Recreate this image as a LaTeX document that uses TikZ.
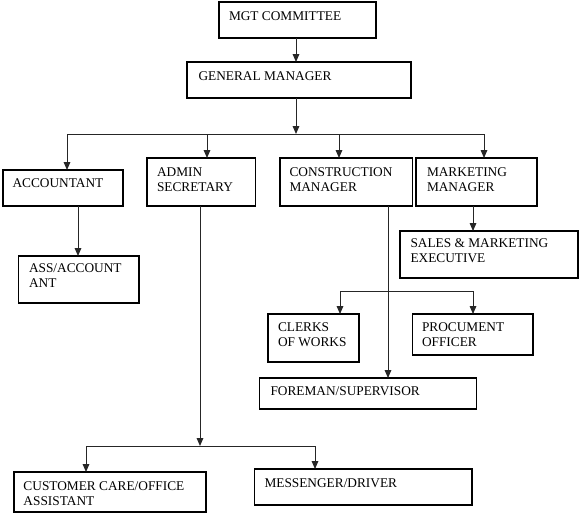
\documentclass[tikz,border=0pt]{standalone}
\usepackage{fontspec}
\setmainfont{Liberation Serif}
\usetikzlibrary{arrows.meta,calc}
\tikzset{
  box/.style={draw=black, line width=0.9pt, rectangle, inner sep=0pt, outer sep=0pt, anchor=north west},
  lbl/.style={inner sep=0pt, outer sep=0pt, anchor=base west, font=\fontsize{10pt}{11.25pt}\selectfont, text=black},
  conn/.style={draw=black!85, line width=0.75pt},
  arr/.style={conn, -{Triangle[length=6pt,width=5pt]}}
}
\newcommand\bx[5]{\node[box, minimum width={(#4-#2)*0.75pt}, minimum height={(#5-#3)*0.75pt}] (#1) at (#2,#3) {};}
\newcommand\twol[2]{\vtop{\hbox{#1}\hbox{#2}}}
\begin{document}
\begin{tikzpicture}[x=0.75pt,y=-0.75pt]
\useasboundingbox (0,0) rectangle (581,514);
% boxes
\bx{mgt}{219}{2}{376}{38}
\bx{gm}{187}{62}{411}{98}
\bx{acc}{3}{170}{123}{206}
\bx{adm}{147}{158}{255.5}{206}
\bx{con}{280}{158}{412.5}{206}
\bx{mkt}{416}{158}{537}{206}
\bx{ass}{18.5}{256}{139}{303}
\bx{sal}{400}{231}{578}{278}
\bx{clk}{268}{314}{359}{362}
\bx{pro}{412.5}{314}{533}{355}
\bx{frm}{259.5}{378}{476.5}{409}
\bx{cus}{14}{472}{206}{512}
\bx{mes}{254.5}{469}{472}{505}
% labels
\node[lbl] (tmgt) at (229,20) {MGT COMMITTEE};
\node[lbl] (tgm) at (198.5,80) {GENERAL MANAGER};
\node[lbl] (tacc) at (12.5,187.5) {ACCOUNTANT};
\node[lbl] (tadm) at (157,176.5) {\twol{ADMIN}{SECRETARY}};
\node[lbl] (tcon) at (289.5,176) {\twol{CONSTRUCTION}{MANAGER}};
\node[lbl] (tmkt) at (427,176.7) {\twol{MARKETING}{MANAGER}};
\node[lbl] (tass) at (29,272.7) {\twol{ASS/ACCOUNT}{ANT}};
\node[lbl] (tsal) at (410.5,247.7) {\twol{SALES \& MARKETING}{EXECUTIVE}};
\node[lbl] (tclk) at (278,331) {\twol{CLERKS}{OF WORKS}};
\node[lbl] (tpro) at (422,331) {\twol{PROCUMENT}{OFFICER}};
\node[lbl] (tfrm) at (270.5,395) {FOREMAN/SUPERVISOR};
\node[lbl] (tcus) at (23.5,490) {\twol{CUSTOMER CARE/OFFICE}{ASSISTANT}};
\node[lbl] (tmes) at (264.5,487) {MESSENGER/DRIVER};
% junction coordinates
\coordinate (bG) at (296,134);
\coordinate (bA) at (67,134);
\coordinate (bB) at (207,134);
\coordinate (bC) at (339,134);
\coordinate (bD) at (484,134);
\coordinate (cA) at (78,0);
\coordinate (cM) at (473,0);
\coordinate (cC) at (388,0);
\coordinate (k1) at (340,291);
\coordinate (k2) at (473,291);
\coordinate (cS) at (200,446);
\coordinate (m1) at (86,446);
\coordinate (m2) at (315,446);
% connectors
\draw[arr] (mgt.south -| bG) -- (gm.north -| bG);
\draw[arr] (gm.south -| bG) -- (bG);
\draw[conn] (bA) -- (bD);
\draw[arr] (bA) -- (bA |- acc.north);
\draw[arr] (bB) -- (bB |- adm.north);
\draw[arr] (bC) -- (bC |- con.north);
\draw[arr] (bD) -- (bD |- mkt.north);
\draw[arr] (acc.south -| cA) -- (ass.north -| cA);
\draw[arr] (mkt.south -| cM) -- (sal.north -| cM);
\draw[arr] (con.south -| cC) -- (frm.north -| cC);
\draw[conn] (k1) -- (k2);
\draw[arr] (k1) -- (k1 |- clk.north);
\draw[arr] (k2) -- (k2 |- pro.north);
\draw[arr] (adm.south -| cS) -- (cS);
\draw[conn] (m1) -- (m2);
\draw[arr] (m1) -- (m1 |- cus.north);
\draw[arr] (m2) -- (m2 |- mes.north);
\end{tikzpicture}
\end{document}
